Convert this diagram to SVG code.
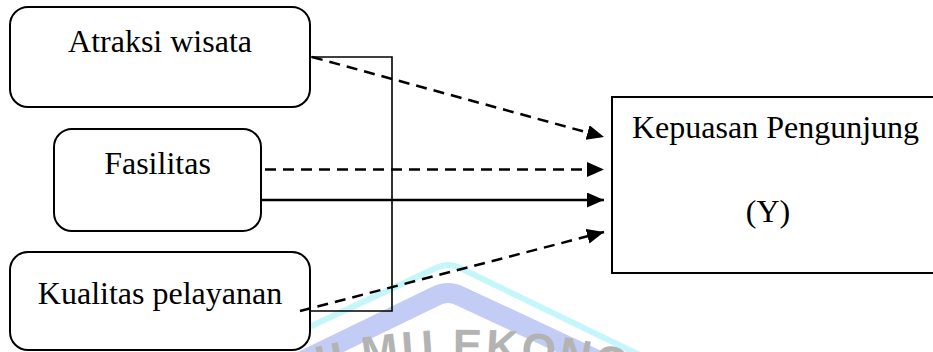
<svg xmlns="http://www.w3.org/2000/svg" width="933" height="352" viewBox="0 0 933 352">
  <style>
    .node { fill: #ffffff; stroke: #000000; stroke-width: 2; }
    .label { font-family: "Liberation Serif", "Times New Roman", serif; font-size: 32px; fill: #000000; }
    .conn { fill: none; stroke: #000000; stroke-width: 2.5; }
    .dash { stroke-dasharray: 11 7; }
    .bracket { fill: none; stroke: #000000; stroke-width: 1.6; }
  </style>
  <defs>
    <marker id="arrow" markerUnits="userSpaceOnUse" markerWidth="18" markerHeight="16" refX="17" refY="7.5" orient="auto">
      <path d="M0,0 L17,7.5 L0,15 Z" fill="#000000"/>
    </marker>
    <path id="wmArc" d="M65,506.9 A618,618 0 0 1 865,506.9"/>
  </defs>
  <rect width="933" height="352" fill="#ffffff"/>

  <!-- faint watermark -->
  <g id="watermark">
    <path d="M290,336 L436,268 Q448,262 460,268 L650,360" fill="none" stroke="#c4f6fa" stroke-width="6"/>
    <path d="M300,362 L436,296 Q448,290 460,296 L640,380" fill="none" stroke="#c3ccf5" stroke-width="20"/>
    <text font-family="Liberation Sans, Arial, sans-serif" font-size="44" font-weight="bold" fill="#b3b3b3" letter-spacing="3">
      <textPath href="#wmArc" startOffset="288">ILMU EKONOMI</textPath>
    </text>
  </g>

  <g id="node-atraksi">
    <rect class="node" x="10" y="7" width="300" height="100" rx="18"/>
    <text class="label" x="160" y="52" text-anchor="middle">Atraksi wisata</text>
  </g>
  <g id="node-fasilitas">
    <rect class="node" x="54" y="129" width="207" height="102" rx="18"/>
    <text class="label" x="157.5" y="174" text-anchor="middle">Fasilitas</text>
  </g>
  <g id="node-kualitas">
    <rect class="node" x="10" y="252" width="300" height="98" rx="18"/>
    <text class="label" x="160" y="304" text-anchor="middle">Kualitas pelayanan</text>
  </g>
  <g id="node-kepuasan">
    <rect class="node" x="612" y="97" width="330" height="176"/>
    <text class="label" x="632" y="138">Kepuasan Pengunjung</text>
    <text class="label" x="768" y="222" text-anchor="middle">(Y)</text>
  </g>

  <g id="connectors">
    <path class="bracket" d="M310,57 H392 V311 H310"/>
    <line class="conn dash" x1="312" y1="57" x2="604" y2="137" marker-end="url(#arrow)"/>
    <line class="conn dash" x1="265" y1="169.5" x2="604" y2="169.5" marker-end="url(#arrow)"/>
    <line class="conn" x1="261" y1="200" x2="604" y2="200" marker-end="url(#arrow)"/>
    <line class="conn dash" x1="300" y1="311" x2="604" y2="232" marker-end="url(#arrow)"/>
  </g>
</svg>
